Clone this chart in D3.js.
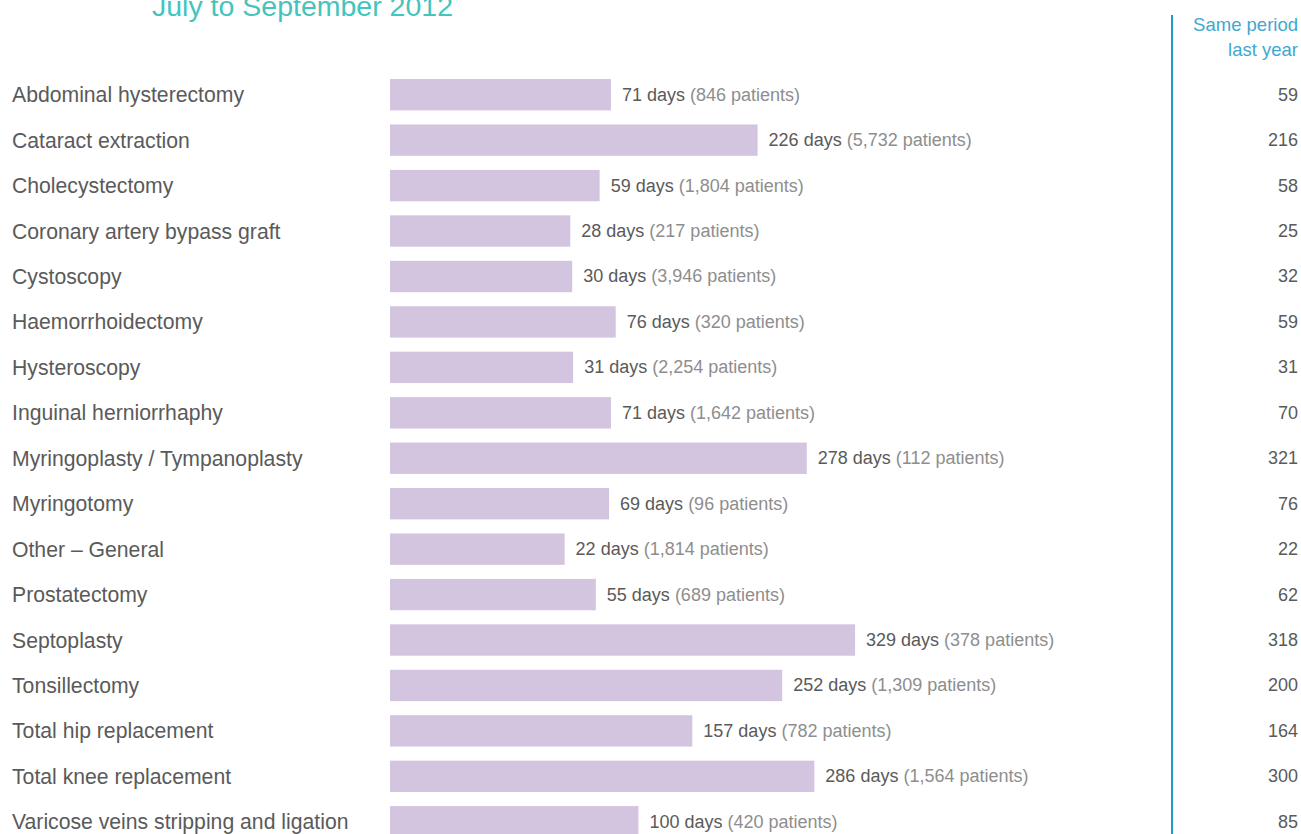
<!DOCTYPE html>
<html>
<head>
<meta charset="utf-8">
<script src="https://cdn.jsdelivr.net/npm/d3@7"></script>
<style>
  body { margin: 0; background: #fff; }
  svg { display: block; font-family: "Liberation Sans", "DejaVu Sans", sans-serif; }
</style>
</head>
<body>
<svg id="chart" width="1301" height="834"></svg>
<script>
const procedures = [
  "Abdominal hysterectomy", "Cataract extraction", "Cholecystectomy",
  "Coronary artery bypass graft", "Cystoscopy", "Haemorrhoidectomy",
  "Hysteroscopy", "Inguinal herniorrhaphy", "Myringoplasty / Tympanoplasty",
  "Myringotomy", "Other \u2013 General", "Prostatectomy", "Septoplasty",
  "Tonsillectomy", "Total hip replacement", "Total knee replacement",
  "Varicose veins stripping and ligation"
];
const days = [71, 226, 59, 28, 30, 76, 31, 71, 278, 69, 22, 55, 329, 252, 157, 286, 100];
const patients = ["846", "5,732", "1,804", "217", "3,946", "320", "2,254", "1,642", "112",
  "96", "1,814", "689", "378", "1,309", "782", "1,564", "420"];
const lastYear = [59, 216, 58, 25, 32, 59, 31, 70, 321, 76, 22, 62, 318, 200, 164, 300, 85];

const svg = d3.select("#chart");

// bars start at a floor, so the scale domain begins below zero
const x = d3.scaleLinear().domain([-162.6, 350]).range([390, 874.9]);
const y = d3.scaleBand()
  .domain(procedures)
  .range([72, 844.5])
  .paddingInner(0.31)
  .paddingOuter(0.155);

// title (cut off at the top)
svg.append("text")
  .attr("x", 152)
  .attr("y", 16)
  .attr("font-size", 28.5)
  .attr("fill", "#44c4bc")
  .text("July to September 2012");

// column header
const head = svg.append("g")
  .attr("font-size", 18.5)
  .attr("fill", "#3ea8d0")
  .attr("text-anchor", "end");
head.append("text").attr("x", 1298).attr("y", 31).text("Same period");
head.append("text").attr("x", 1298).attr("y", 56).text("last year");

svg.append("line")
  .attr("x1", 1172).attr("x2", 1172)
  .attr("y1", 15).attr("y2", 834)
  .attr("stroke", "#1c9cc6")
  .attr("stroke-width", 2);

const rows = svg.append("g")
  .selectAll("g")
  .data(procedures)
  .enter()
  .append("g");

rows.append("text")
  .attr("x", 12)
  .attr("y", d => y(d) + y.bandwidth() / 2)
  .attr("dominant-baseline", "central")
  .attr("font-size", 21.2)
  .attr("fill", "#5a5a5a")
  .text(d => d);

rows.append("rect")
  .attr("x", x(x.domain()[0]))
  .attr("y", d => y(d))
  .attr("width", (d, i) => x(days[i]) - x(x.domain()[0]))
  .attr("height", y.bandwidth())
  .attr("fill", "#d3c4e0");

const val = rows.append("text")
  .attr("x", (d, i) => x(days[i]) + 11)
  .attr("y", d => y(d) + y.bandwidth() / 2)
  .attr("dominant-baseline", "central")
  .attr("font-size", 18);
val.append("tspan")
  .attr("fill", "#5a5a5a")
  .text((d, i) => days[i] + " days ");
val.append("tspan")
  .attr("fill", "#8e8e8e")
  .text((d, i) => "(" + patients[i] + " patients)");

rows.append("text")
  .attr("x", 1298)
  .attr("y", d => y(d) + y.bandwidth() / 2)
  .attr("dominant-baseline", "central")
  .attr("text-anchor", "end")
  .attr("font-size", 18)
  .attr("fill", "#5a5a5a")
  .text((d, i) => lastYear[i]);
</script>
</body>
</html>
